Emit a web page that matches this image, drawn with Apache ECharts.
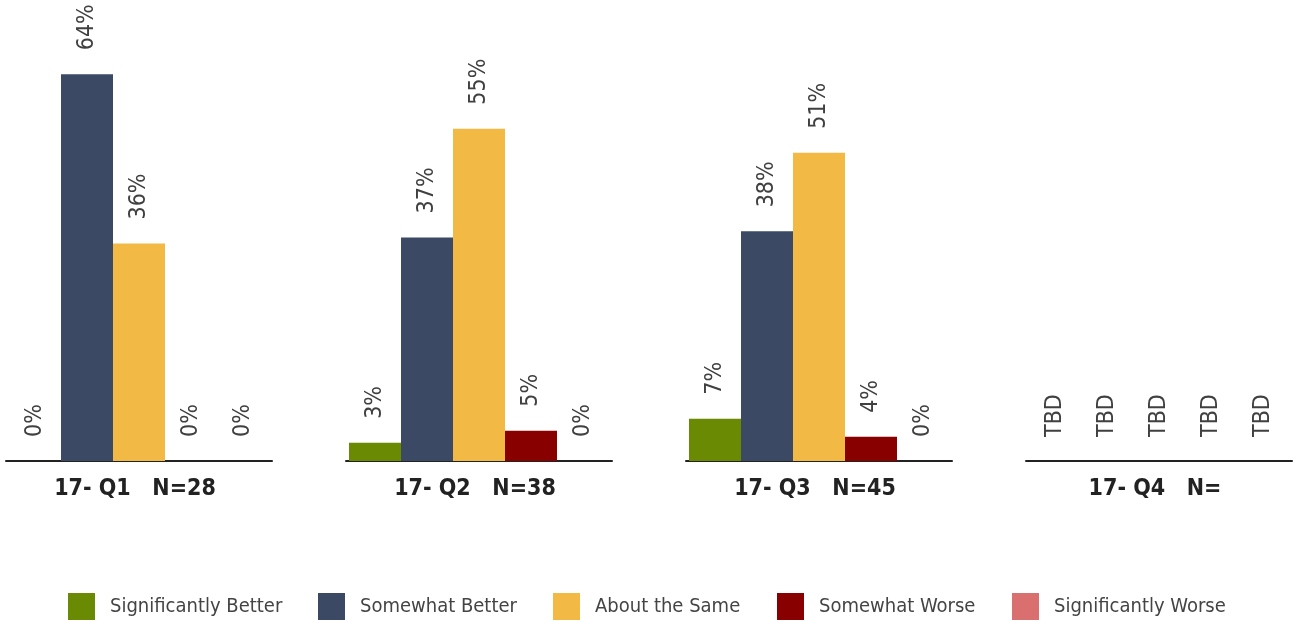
<!DOCTYPE html>
<html>
<head>
<meta charset="utf-8">
<script src="https://cdn.jsdelivr.net/npm/echarts@6/dist/echarts.min.js"></script>
<style>html,body{margin:0;padding:0;background:#fff}#c{width:1294px;height:622px}</style>
</head>
<body>
<div id="c"></div>
<script>
const categories = ['Significantly Better','Somewhat Better','About the Same','Somewhat Worse','Significantly Worse'];
const periods = ['17- Q1','17- Q2','17- Q3','17- Q4'];
const sampleSizes = ['28','38','45',''];
const reported = [true,true,true,false];
const sigBetter = [0,3,7,0];
const somewhatBetter = [64,37,38,0];
const aboutSame = [36,55,51,0];
const somewhatWorse = [0,5,4,0];
const sigWorse = [0,0,0,0];
const seriesValues = [sigBetter, somewhatBetter, aboutSame, somewhatWorse, sigWorse];
const colors = ['#6a8a03','#3b4964','#f2b945','#880000','#da6f6f'];

const FONT = '"DejaVu Sans Condensed","Liberation Sans Narrow",sans-serif';
const gridLefts = [6,346,686,1026];
const legendLefts = [68,318,553,777,1012];

const grids = [], xAxes = [], yAxes = [], series = [];
periods.forEach((p,g)=>{
  grids.push({left:gridLefts[g], width:266, top:38, bottom:161});
  xAxes.push({type:'category', gridIndex:g, data:[p + '   N=' + sampleSizes[g]],
    axisLine:{lineStyle:{color:'#222',width:2}}, axisTick:{show:false},
    axisLabel:{fontFamily:FONT, fontWeight:'bold', fontSize:23, color:'#222', margin:17, padding:[0,8,0,0]}});
  yAxes.push({type:'value', gridIndex:g, min:0, max:70, show:false, splitLine:{show:false}});
  categories.forEach((c,i)=>{
    series.push({type:'bar', name:c, xAxisIndex:g, yAxisIndex:g,
      data:[seriesValues[i][g]], barWidth:52, barGap:'0%',
      itemStyle:{color:colors[i]},
      label:{show:true, position:'top', distance:24, rotate:90, align:'left', verticalAlign:'middle',
        fontFamily:FONT, fontSize:23, color:'#404040',
        formatter: reported[g] ? (d=>d.value+'%') : 'TBD'}});
  });
});

const legends = categories.map((c,i)=>({
  data:[c], left:legendLefts[i], top:593, padding:0, itemWidth:27, itemHeight:27, itemGap:16,
  icon:'rect', textStyle:{fontFamily:FONT, fontSize:20, color:'#444', padding:[0,0,0,10]}
}));

const chart = echarts.init(document.getElementById('c'));
chart.setOption({
  animation:false, color:colors,
  legend:legends, grid:grids, xAxis:xAxes, yAxis:yAxes, series:series
});
</script>
</body>
</html>
